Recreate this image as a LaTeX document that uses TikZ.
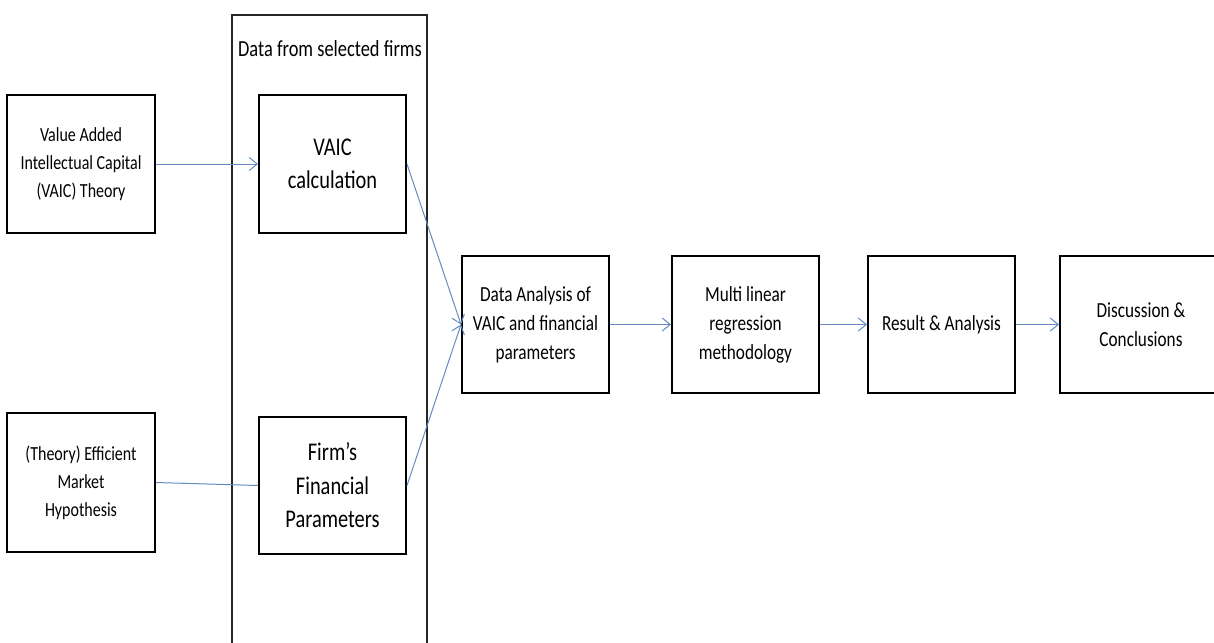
\documentclass[tikz,border=0pt]{standalone}
\usepackage{fontspec}
\setmainfont{Carlito}[FakeStretch=0.8]
\usetikzlibrary{arrows.meta}
\definecolor{flowblue}{RGB}{100,140,195}
\begin{document}
\begin{tikzpicture}[x=1pt,y=-1pt,
  box/.style={draw=black,line width=2pt,rectangle,align=center,inner sep=0pt,
    minimum width=147pt,minimum height=138pt},
  small/.style={font=\fontsize{20}{28}\selectfont},
  rowtext/.style={font=\fontsize{21.5}{29}\selectfont},
  big/.style={font=\fontsize{25.5}{33.5}\selectfont},
  link/.style={draw=flowblue,line width=1pt},
  flow/.style={link,-{Straight Barb[length=8pt,width=13pt,line width=1pt]}}]
\useasboundingbox[fill=white] (0,0) rectangle (1214,642);

% container of the data boxes (open past the lower edge)
\node[draw=black!85,line width=1.6pt,rectangle,inner sep=0pt,
  minimum width=195pt,minimum height=645pt] (data) at (329.5,337.5) {};
\node[font=\fontsize{23}{28}\selectfont,inner sep=0pt] (datalabel) at (330,49) {Data from selected firms};

% theory inputs
\node[box,small,minimum width=148pt] (theory) at (81,164) {Value Added\\Intellectual Capital\\(VAIC) Theory};
\node[box,small,minimum width=148pt,minimum height=139pt] (emh) at (81,482.5) {(Theory) Efficient\\Market\\Hypothesis};

% data boxes
\node[box,big] (calc) at (332.5,164) {VAIC\\calculation};
\node[box,big,minimum height=137pt] (firms) at (332.5,485.5) {Firm’s\\Financial\\Parameters};

% main flow
\node[box,rowtext,minimum height=137pt] (analysis) at (535.5,324.5) {Data Analysis of\\VAIC and financial\\parameters};
\node[box,rowtext,minimum height=137pt] (regression) at (745.5,324.5) {Multi linear\\regression\\methodology};
\node[box,rowtext,minimum height=137pt] (result) at (941.5,324.5) {Result \& Analysis};
\node[box,rowtext,minimum height=137pt,minimum width=162pt] (discussion) at (1141,324.5) {Discussion \&\\Conclusions};

% connectors
\draw[flow] (theory.east) -- (calc.west);
\draw[link] (emh.east) -- (firms.west);
\draw[flow] (calc.east) -- (analysis.west);
\draw[flow] (firms.east) -- (analysis.west);
\draw[flow] (analysis.east) -- (regression.west);
\draw[flow] (regression.east) -- (result.west);
\draw[flow] (result.east) -- (discussion.west);
\end{tikzpicture}
\end{document}
